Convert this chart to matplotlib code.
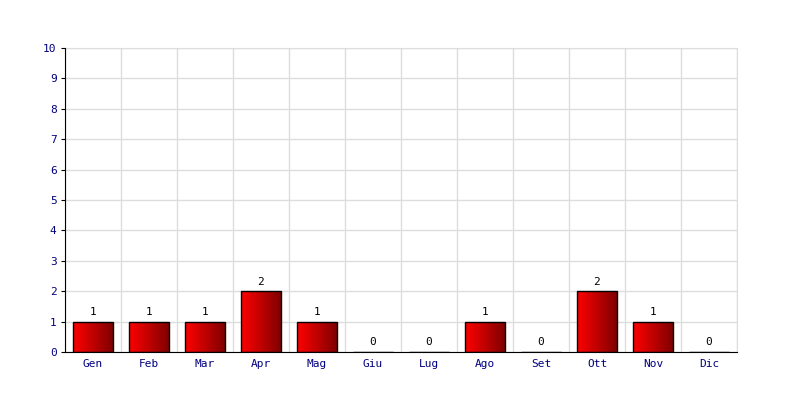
import numpy as np
import matplotlib
matplotlib.use("Agg")
import matplotlib.pyplot as plt
from matplotlib.colors import LinearSegmentedColormap

months = ["Gen", "Feb", "Mar", "Apr", "Mag", "Giu", "Lug", "Ago", "Set", "Ott", "Nov", "Dic"]
values = [1, 1, 1, 2, 1, 0, 0, 1, 0, 2, 1, 0]
yticks = list(range(0, 11))

plt.rcParams['font.family'] = ['DejaVu Sans Mono']
navy = '#000080'

fig = plt.figure(figsize=(8, 4), dpi=100)
ax = fig.add_axes([0.08125, 0.12, 0.84, 0.76])

x = np.arange(len(months))
bars = ax.bar(x, values, width=0.7, color='none', edgecolor='black', linewidth=1, zorder=3)

# left-to-right red gradient inside each bar
grad = LinearSegmentedColormap.from_list('redgrad', ['#ff0000', '#800000'])
g = np.linspace(0, 1, 256).reshape(1, -1)
for b in bars:
    h = b.get_height()
    if h <= 0:
        continue
    x0 = b.get_x()
    im = ax.imshow(g, cmap=grad, aspect='auto', extent=[x0, x0 + b.get_width(), 0, h],
                   zorder=2, interpolation='bicubic')
    im.set_clip_path(b)

for xi, v in zip(x, values):
    ax.text(xi, v + 0.15, str(v), ha='center', va='bottom', fontsize=8, color='black', zorder=4)

ax.set_xlim(-0.5, len(months) - 0.5)
ax.set_ylim(0, 10)
ax.set_yticks(yticks)
ax.set_xticks(x)
ax.set_xticklabels(months)
ax.set_xticks(np.arange(-0.5, len(months), 1), minor=True)
ax.grid(True, which='minor', axis='x', color='#dddddd', linewidth=1, zorder=0)
ax.grid(True, which='major', axis='y', color='#dddddd', linewidth=1, zorder=0)
ax.tick_params(axis='both', which='major', labelsize=8, labelcolor=navy, length=3, color='black')
ax.tick_params(axis='x', which='major', length=0, pad=5)
ax.tick_params(axis='x', which='minor', length=0)
ax.tick_params(axis='y', length=3, pad=3)

for s in ['top', 'right']:
    ax.spines[s].set_color('#dddddd')
for s in ['left', 'bottom']:
    ax.spines[s].set_color('black')
    ax.spines[s].set_zorder(5)

fig.savefig('out.png', dpi=100)
